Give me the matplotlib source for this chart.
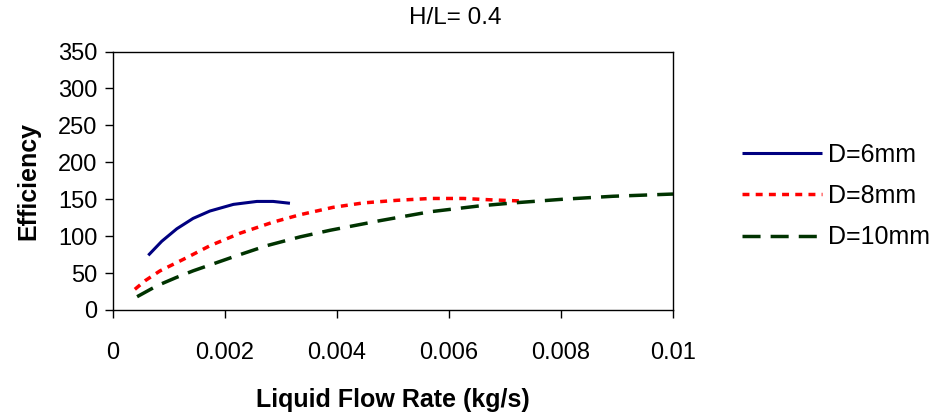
import matplotlib
matplotlib.use("Agg")
import matplotlib.pyplot as plt

plt.rcParams['font.family'] = ['Liberation Sans', 'DejaVu Sans']

# flow rate (kg/s) and efficiency for each hole diameter
flow_6mm = [0.00063, 0.00087, 0.00114, 0.00143, 0.00173, 0.00215, 0.00257,
            0.00286, 0.00316]
eff_6mm = [74, 93, 110, 124, 134, 143, 147, 147, 144.5]

flow_8mm = [0.00039, 0.00058, 0.00084, 0.00132, 0.00173, 0.00227, 0.00286,
            0.00334, 0.00393, 0.00447, 0.00507, 0.00566, 0.00626, 0.00679,
            0.00733]
eff_8mm = [28, 40, 53, 71, 87, 104, 119, 129, 139, 145, 148.5, 151, 151,
           149, 147.5]

flow_10mm = [0.00043, 0.00079, 0.00113, 0.00143, 0.00215, 0.00274, 0.00334,
             0.00388, 0.00477, 0.00566, 0.00655, 0.00715, 0.00804, 0.00893,
             0.01]
eff_10mm = [18, 33, 44, 53, 72, 87, 99, 108, 121, 133, 141, 145, 150, 154,
            157]

x_ticks = [0, 0.002, 0.004, 0.006, 0.008, 0.01]
x_ticklabels = ['0', '0.002', '0.004', '0.006', '0.008', '0.01']
y_ticks = [0, 50, 100, 150, 200, 250, 300, 350]

FS = 17

fig = plt.figure(figsize=(9.35, 4.18), dpi=100)
ax = fig.add_axes([113/935, 108/418, 560/935, 258.5/418])

ax.plot(flow_6mm, eff_6mm, color='#000080', lw=2.2, ls='-',
        solid_capstyle='butt', label='D=6mm')
ax.plot(flow_8mm, eff_8mm, color='#ff0000', lw=2.5, ls=(0, (2, 1.8)),
        label='D=8mm')
ax.plot(flow_10mm, eff_10mm, color='#003300', lw=2.5, ls=(0, (5.2, 2.9)),
        label='D=10mm')

ax.set_xlim(0, 0.01)
ax.set_ylim(0, 350)
ax.set_xticks(x_ticks)
ax.set_xticklabels(x_ticklabels)
ax.set_yticks(y_ticks)
ax.tick_params(direction='out', length=6, width=1, labelsize=FS)
ax.tick_params(axis='x', pad=17)
ax.tick_params(axis='y', pad=5)
for s in ax.spines.values():
    s.set_linewidth(1)

ax.set_xlabel('Liquid Flow Rate (kg/s)', fontsize=18, fontweight='bold',
              labelpad=17)
ax.set_ylabel('Efficiency', fontsize=18, fontweight='bold', labelpad=13)
fig.text(455/935, 1 - 18/418, 'H/L= 0.4', fontsize=17.5, ha='center',
         va='center')

fig.legend(loc='center left', bbox_to_anchor=(719/935, 1 - 196/418),
           frameon=False, fontsize=18, handlelength=3.2, labelspacing=0.7,
           handletextpad=0.25)

fig.savefig('out.png', dpi=100)
